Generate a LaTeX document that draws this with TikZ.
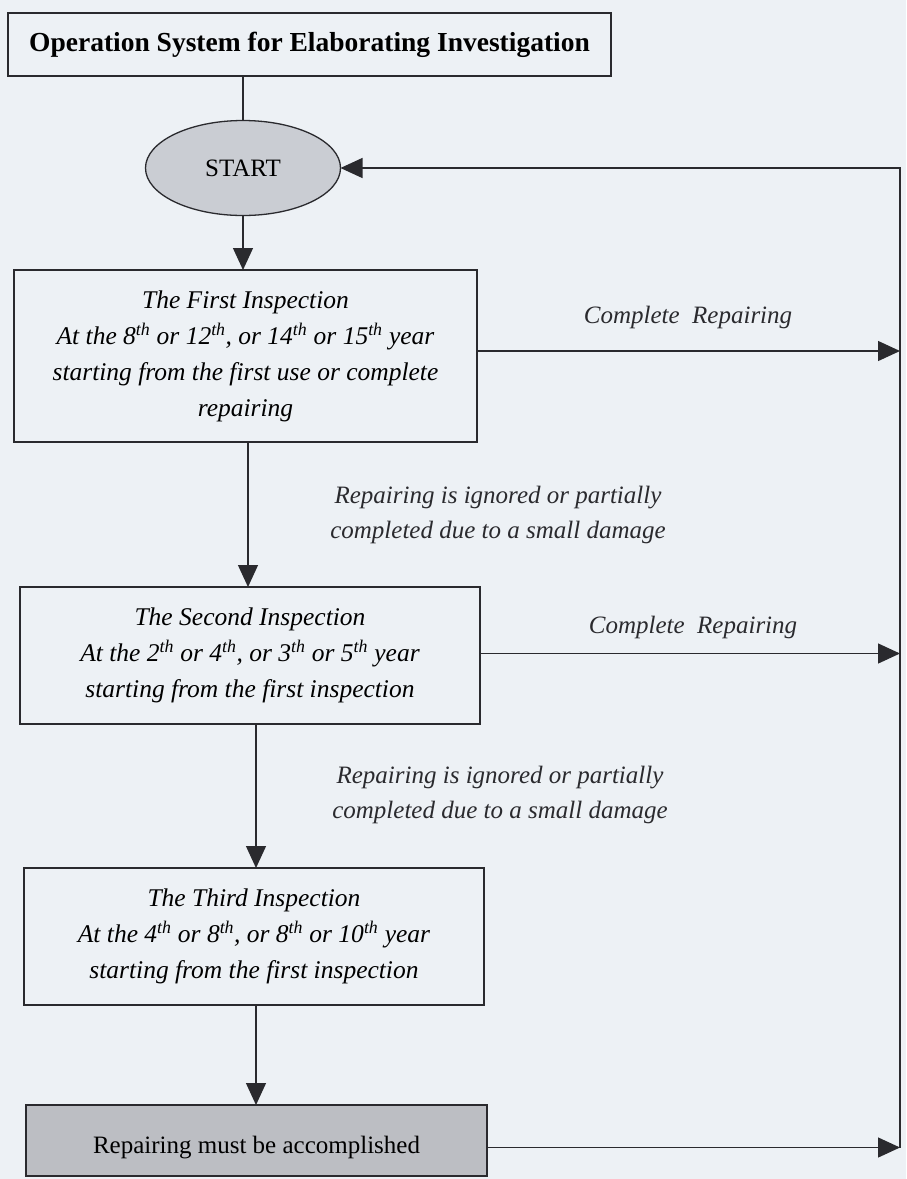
\documentclass[tikz,border=0pt]{standalone}
\usepackage{fontspec}
\setmainfont{Liberation Serif}
\usetikzlibrary{arrows.meta,shapes.geometric}
\definecolor{bg}{HTML}{EDF1F5}
\definecolor{ink}{HTML}{2A2A2E}
\definecolor{ellfill}{HTML}{CACDD3}
\definecolor{repfill}{HTML}{BCBEC3}
\begin{document}
\begin{tikzpicture}[x=1pt,y=-1pt,
  every node/.style={inner sep=0pt, outer sep=0pt},
  box/.style={draw=ink, line width=1.3pt, fill=bg, align=center, font=\fontsize{25.5}{36}\selectfont\itshape},
  lbl/.style={align=center, text=ink, font=\fontsize{25}{35}\selectfont\itshape},
  arr/.style={draw=ink, line width=1.3pt, -{Triangle[length=22pt,width=20pt]}},
  ln/.style={draw=ink, line width=1.3pt}]
\fill[bg] (0,0) rectangle (906,1179);
\useasboundingbox (0,0) rectangle (906,1179);

\node[box, font=\fontsize{27.5}{33}\selectfont\bfseries, minimum width=603pt, minimum height=63pt] (title) at (309.5,44.5) {Operation System for Elaborating Investigation};

\node[ellipse, draw=ink, line width=1.3pt, fill=ellfill, minimum width=195pt, minimum height=95pt, font=\fontsize{25}{30}\selectfont] (start) at (243,168) {START};

\node[box, minimum width=463pt, minimum height=172pt] (first) at (245.5,356)
 {The First Inspection\\At the 8\textsuperscript{th} or 12\textsuperscript{th}, or 14\textsuperscript{th} or 15\textsuperscript{th} year\\starting from the first use or complete\\repairing};

\node[box, minimum width=460pt, minimum height=137pt] (second) at (250,655.5)
 {The Second Inspection\\At the 2\textsuperscript{th} or 4\textsuperscript{th}, or 3\textsuperscript{th} or 5\textsuperscript{th} year\\starting from the first inspection};

\node[box, minimum width=460pt, minimum height=137pt] (third) at (254,936.5)
 {The Third Inspection\\At the 4\textsuperscript{th} or 8\textsuperscript{th}, or 8\textsuperscript{th} or 10\textsuperscript{th} year\\starting from the first inspection};

\node[box, fill=repfill, minimum width=461pt, minimum height=71pt] (rep) at (256.5,1140.5) {};
\node[font=\fontsize{25}{30}\selectfont, text=black] (reptext) at ([yshift=-7pt]rep.center) {Repairing must be accomplished};

\node[lbl] (c1) at (688,317) {Complete\hspace{0.5em}Repairing};
\node[lbl] (c2) at (693,627) {Complete\hspace{0.5em}Repairing};
\node[lbl] (l1) at (498,515) {Repairing is ignored or partially\\completed due to a small damage};
\node[lbl] (l2) at (500,795) {Repairing is ignored or partially\\completed due to a small damage};

\coordinate (rt) at (900,168);
\coordinate (rb) at (900,1148);

\draw[ln] (title.south -| start.north) -- (start.north);
\draw[arr] (start.south) -- (start.south |- first.north);
\draw[arr] ([xshift=2.5pt]first.south) -- ([xshift=2.5pt]first.south |- second.north);
\draw[arr] ([xshift=6pt]second.south) -- ([xshift=6pt]second.south |- third.north);
\draw[arr] ([xshift=2pt]third.south) -- ([xshift=2pt]third.south |- rep.north);

\draw[arr] ([yshift=5pt]first.east) -- ([yshift=5pt]first.east -| rt);
\draw[arr] ([yshift=2pt]second.east) -- ([yshift=2pt]second.east -| rt);
\draw[arr] ([yshift=-7pt]rep.east) -- ([yshift=-7pt]rep.east -| rt);
\draw[arr] (rb) -- (rt) -- (start.east);
\end{tikzpicture}
\end{document}
